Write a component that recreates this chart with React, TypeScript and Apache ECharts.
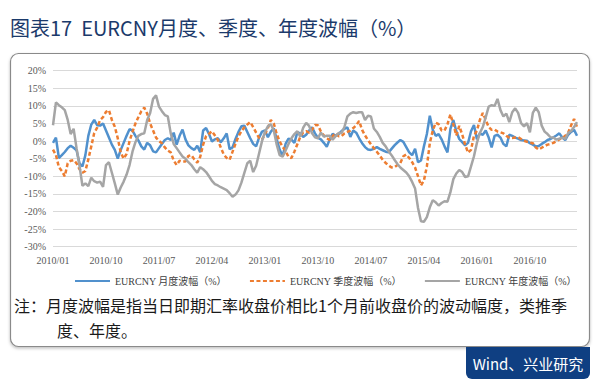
import React, { useEffect, useRef } from "react";
import * as echarts from "echarts";

// Semi-monthly sampling, 2010/01 .. 2017/06
const START_YEAR = 2010;
const POINT_COUNT = 179;

const monthly: number[] = [
  -0.5, 1, -4.8, -4, -3.1, -2, -1.3, -1.9, -2.6, -6.3,
  -7.2, -4, 1.5, 4.7, 6, 4.5, 4.4, 5, 3, 1,
  -1, -2.5, -5, -2.5, -0.5, 1.5, 3.4, 3, 1.5, 0.2,
  -1.5, -2.4, -0.5, -1.2, -2.9, -3.2, -2, -0.8, 0.3, 0.8,
  0.3, 2.4, -1, 1.5, 3.3, 0.5, -1.2, -2, -2.5, -1.3,
  -3.2, 3, 3.7, 2, -0.1, 0.5, 0.8, -0.3, 0.8, 2.2,
  -2.3, -1.8, 0.6, 2.6, 4.2, 4.4, 2.6, 0.8, -0.8, -1.5,
  1, 2.7, 3, 1.1, 2.7, 3.6, 0.5, -2.4, -4.3, -0.8,
  0.7, 0.4, -0.5, 2.5, 2.2, 1.2, 1.8, 3, 3.9, 2.2,
  0.9, 0.5, -0.5, -1.6, 0.5, 2.1, 1.5, 2, 2.8, 3.5,
  3.9, 1.2, 3, 2.4, 0.8, -0.6, -1.7, -2.4, -2.5, -2.2,
  -1.7, -2.2, -2.6, -3, -3.2, -2.2, -1.2, -0.4, 0.3, -0.2,
  -1.7, -3.2, -4, -2.2, -6, -5.5, -1.5, 2, 7.2, 3.2,
  1.5, 2, 0.5, -1.5, -3.2, 3.5, 6, 2.8, 0.6, -0.3,
  -1.2, -0.5, 2.8, 4.6, 0.5, 2.2, 1.8, 3, 1, -1.8,
  1.5, 1.8, 1, -0.8, -1.5, 1.8, 1.5, 1, 0.7, 0.3,
  0.2, 0.1, -0.6, -1, -1.5, -1.4, -0.8, -0.3, 0.3, 0.6,
  1.1, 1.6, 2.2, 1, 0.3, 1.8, 2.6, 3.2, 1.5,
];

const quarterly: number[] = [
  -2.4, -4, -7.4, -8.5, -10, -6.3, -5.6, -5.4, -6.3, -8,
  -9, -8.5, -5.2, -1.5, 2.3, 3.8, 6, 6.8, 8.3, 8.8,
  6, 4.1, 0.8, -3.2, -5, -3.6, 0, 2.6, 5, 6.8,
  8.5, 9.5, 7.8, 5, 3, 1, 0, -0.6, -1.8, -2.7,
  -3.2, -5.5, -6.8, -5.6, -5.8, -5.8, -4.2, -4, -5.2, -6.1,
  -4.5, -1, 1.4, 2.1, 2.8, 1.6, 0.3, -1.8, -3.8, -4.8,
  -5.3, -3, -0.7, 1.3, 2.8, 3.9, 4.7, 5.4, 4, 2.4,
  0.9, 0.4, 2, 3.7, 6, 5, 2, -0.1, -1.6, -2.8,
  -4.5, -4.8, -3, -0.9, 1.2, 2.5, 2.8, 2.4, 3.2, 4.6,
  4.5, 2.7, 1.6, 0.8, 0.3, 1.4, 2.2, 1.4, 1.4, 2.2,
  2.6, 3, 3.7, 4.5, 5.7, 3.2, 1.6, 0.3, -0.9, -2,
  -3, -4.1, -5.3, -6.2, -6.9, -7.5, -7.4, -6.8, -6.2, -4.3,
  -3.8, -4.8, -6, -7.5, -10, -12.6, -11.2, -7.2, -0.6, 3,
  5.2, 4.8, 3, 3, 4.8, 7.6, 4.8, 1.6, 4.3, 1.9,
  -1, -3.3, -2.5, 1.5, 3, 6, 8, 6, 4, 3.2,
  3.3, 2.7, 2.5, 2.2, 1.5, 1, 0.9, 1, 1.1, 0.6,
  0.1, -0.2, -0.4, -0.6, -1.8, -2.4, -1.9, -1.4, -1, -0.8,
  -0.5, 0, 0.5, 0.8, 1.5, 2.4, 4.5, 6.3, 4,
];

const annual: number[] = [
  4.5, 11, 10.2, 9.6, 8.8, 6, 2, 3.5, -2, -7,
  -12.7, -12, -12.8, -10.4, -11.4, -11.8, -11.5, -13, -6.8, -6,
  -9, -12, -15.2, -13.2, -11.5, -9.5, -6.8, -3, -0.3, 1.5,
  2, 2.2, 6, 8, 12, 13, 9.8, 8.5, 7.4, 7,
  2.2, -0.8, -2, -3.2, -4.4, -5, -6, -6.8, -8, -9,
  -7.4, -8, -8.8, -10, -11.3, -12.2, -12.6, -13.1, -13.5, -13.9,
  -14.8, -15.8, -15.2, -14, -11.8, -9, -6.3, -5.6, -8.8, -7,
  -3.5, 0, 2.6, 4.2, 4.8, 3, -1, -4, -4.4, -2.7,
  -0.8, 0.8, 2, 2.8, 1.3, 3.8, 5.2, 4.3, 2.2, 1.1,
  0.8, 2.4, 1.3, 1.5, 1.5, 0.4, 1.4, 2.3, 2.3, 4,
  7, 7.8, 8.2, 8, 8.2, 8.2, 6, 7.2, 7, 3.6,
  2.6, 1.2, -0.5, -1.5, -2.9, -4, -5.3, -6.5, -7.5, -8.2,
  -8.9, -10, -11.6, -13.5, -19, -22.8, -22.9, -21.6, -18.8, -16.8,
  -17.4, -18.3, -17.6, -17.1, -17.2, -14.5, -10.8, -9.2, -8.2, -8.8,
  -10.2, -10, -7.2, -4.3, -0.5, 2.3, 4, 6.8, 9.8, 10.2,
  10, 12, 8.8, 7, 7.8, 5.4, 8.2, 9.3, 8, 5.1,
  4.2, 5.1, 2.5, 8, 9.5, 8.2, 4.4, 2.7, 2, 1.1,
  1, 0.4, 0.7, 1, 0.6, 2.3, 2.9, 4, 5.4,
];

const seriesNames = ["EURCNY 月度波幅（%）", "EURCNY 季度波幅（%）", "EURCNY 年度波幅（%）"];
const titleText = "图表17  EURCNY月度、季度、年度波幅（%）";
const noteLine1 = "注：月度波幅是指当日即期汇率收盘价相比1个月前收盘价的波动幅度，类推季";
const noteLine2 = "度、年度。";
const sourceText = "Wind、兴业研究";

const categories: string[] = [];
for (let i = 0; i < POINT_COUNT; i++) {
  const m = Math.floor(i / 2);
  const y = START_YEAR + Math.floor(m / 12);
  const mo = (m % 12) + 1;
  categories.push(`${y}/${mo < 10 ? "0" + mo : mo}/${i % 2 ? "16" : "01"}`);
}

const SERIF = "'Liberation Serif', 'Times New Roman', 'Noto Sans CJK SC', serif";
const SANS = "'Noto Sans CJK SC', 'Noto Sans', sans-serif";

export default function App() {
  const ref = useRef<HTMLDivElement>(null);
  useEffect(() => {
    document.body.style.margin = "0";
    if (!ref.current) return;
    const chart = echarts.init(ref.current, null, { renderer: "svg" });
    const colors = ["#5191cd", "#ed7d31", "#a5a5a5"];
    chart.setOption({
      animation: false,
      backgroundColor: "#ffffff",
      grid: { left: 53, right: 23, top: 70.7, bottom: 141.3, containLabel: false },
      xAxis: {
        type: "category",
        data: categories,
        boundaryGap: false,
        axisLine: { show: false },
        axisTick: { show: false },
        axisLabel: {
          interval: 17,
          formatter: (v: string) => v.slice(0, 7),
          fontFamily: SERIF,
          fontSize: 10,
          color: "#595959",
          margin: 9,
        },
      },
      yAxis: {
        type: "value",
        min: -30,
        max: 20,
        interval: 5,
        axisLine: { show: false },
        axisTick: { show: false },
        splitLine: { lineStyle: { color: "#d9d9d9", width: 1 } },
        axisLabel: {
          formatter: (v: number) => `${v}%`,
          fontFamily: SERIF,
          fontSize: 10,
          color: "#595959",
          margin: 7,
        },
      },
      legend: {
        data: seriesNames,
        left: 69,
        top: 271,
        itemWidth: 35,
        itemHeight: 10,
        itemGap: 22,
        itemStyle: { opacity: 0 },
        textStyle: { fontFamily: SERIF, fontSize: 10, color: "#404040" },
      },
      series: [monthly, quarterly, annual].map((d, k) => ({
        name: seriesNames[k],
        type: "line",
        data: d,
        symbol: "none",
        showSymbol: false,
        smooth: false,
        z: 2 + k,
        lineStyle: {
          color: colors[k],
          width: 2.5,
          type: k === 1 ? [4, 2.5] : "solid",
        },
        itemStyle: { color: colors[k] },
      })),
      graphic: [
        {
          type: "rect",
          z: -10,
          shape: { x: 10.5, y: 53.5, width: 579, height: 293, r: 8 },
          style: { fill: "#ffffff", stroke: "#8a8a8a", lineWidth: 1.2, shadowBlur: 3, shadowOffsetY: 1.5, shadowColor: "rgba(0,0,0,0.25)" },
        },
        {
          type: "text",
          left: 10,
          top: 17,
          style: { text: titleText, fontFamily: SANS, fontSize: 20, fill: "#1b3a6b" },
        },
        {
          type: "text",
          left: 14,
          top: 297,
          style: { text: noteLine1, fontFamily: SANS, fontSize: 16, fill: "#1a1a1a" },
        },
        {
          type: "text",
          left: 57,
          top: 322,
          style: { text: noteLine2, fontFamily: SANS, fontSize: 16, fill: "#1a1a1a" },
        },
        {
          type: "rect",
          shape: { x: 466, y: 347, width: 124, height: 32, r: [0, 0, 6, 6] },
          style: { fill: "#0f3f82" },
        },
        {
          type: "text",
          x: 528,
          y: 363,
          style: { text: sourceText, fontFamily: SANS, fontSize: 15, fill: "#ffffff", align: "center", verticalAlign: "middle" },
        },
      ],
    });
    return () => chart.dispose();
  }, []);
  return <div ref={ref} style={{ width: 600, height: 388, position: "fixed", left: 0, top: 0 }} />;
}
